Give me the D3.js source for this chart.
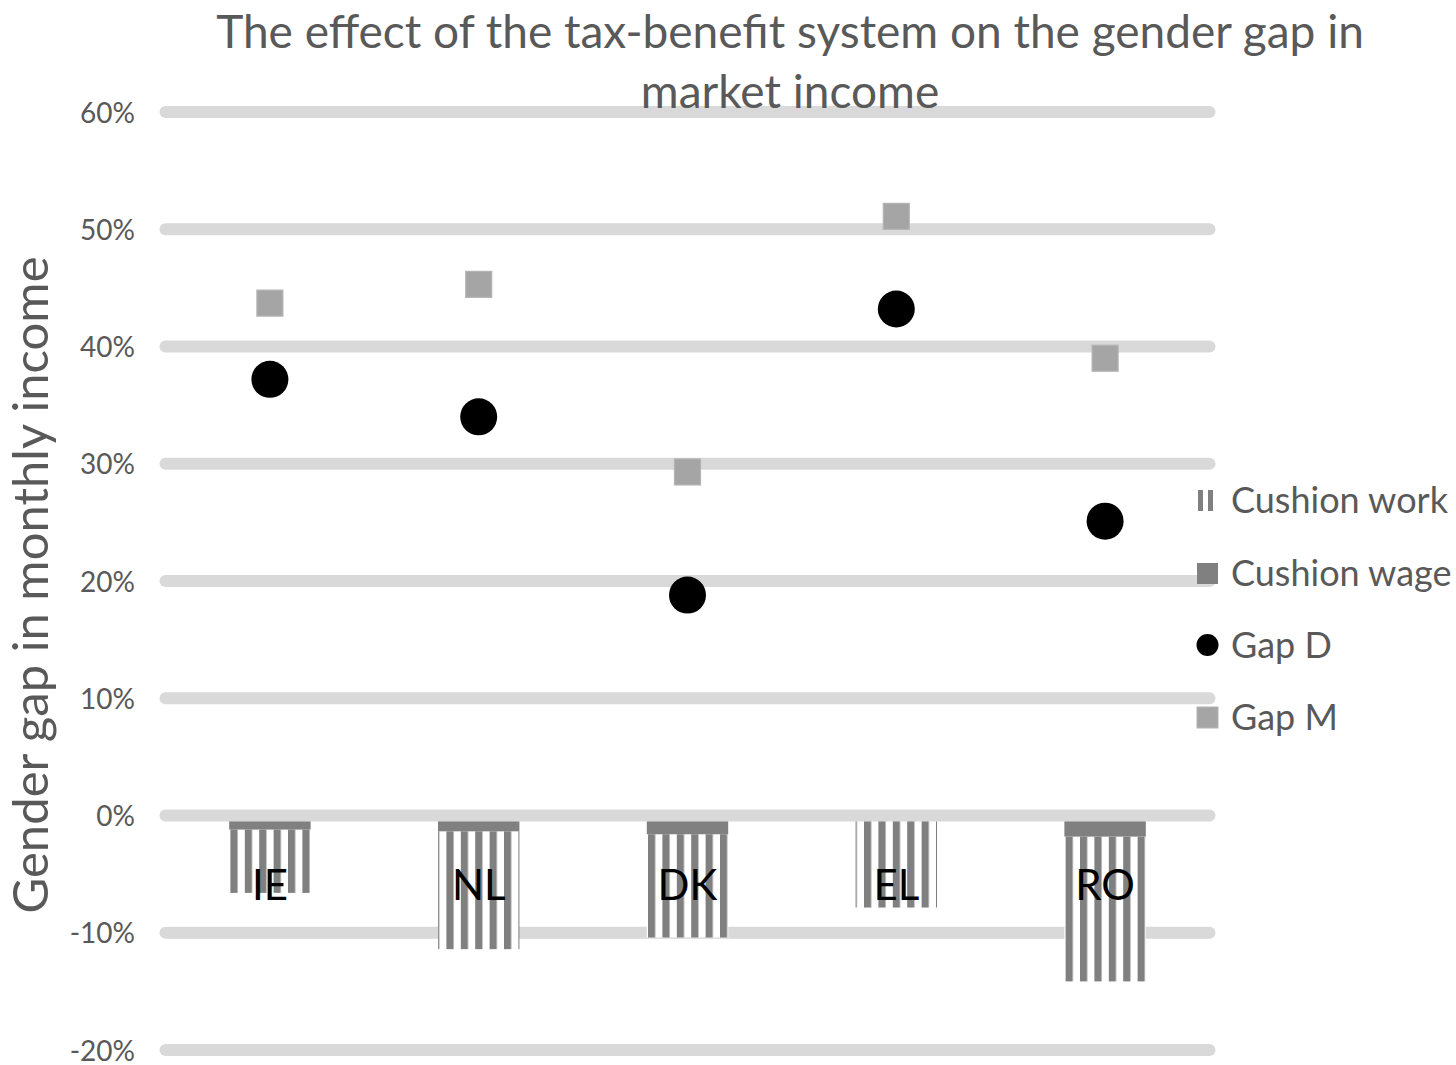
<!DOCTYPE html>
<html>
<head>
<meta charset="utf-8">
<script src="https://cdn.jsdelivr.net/npm/d3@7"></script>
<style>
  html, body { margin: 0; padding: 0; background: #fff; }
  svg { display: block; font-family: Lato, "Open Sans", sans-serif; }
</style>
</head>
<body>
<svg id="chart" width="1456" height="1065"></svg>
<script>
// Countries and values (shares, e.g. 0.37 = 37%)
const countries = ["IE", "NL", "DK", "EL", "RO"];
const cushionWage = [-0.012, -0.0135, -0.016, -0.0005, -0.018];
const cushionWork = [-0.054, -0.1005, -0.088, -0.078, -0.1235];
const gapD = [0.372, 0.340, 0.188, 0.432, 0.251];
const gapM = [0.437, 0.453, 0.293, 0.511, 0.390];
const yTicks = [-0.2, -0.1, 0, 0.1, 0.2, 0.3, 0.4, 0.5, 0.6];
const legendLabels = ["Cushion work", "Cushion wage", "Gap D", "Gap M"];

const textGrey = "#595959";
const gridGrey = "#d9d9d9";
const barGrey = "#808080";
const markerGrey = "#a5a5a5";

const svg = d3.select("#chart");

const x = d3.scaleBand().domain(countries).range([165.5, 1209.5]).paddingInner(0.61).paddingOuter(0.305);
const y = d3.scaleLinear().domain([-0.2, 0.6]).range([1050, 112]);

// vertical stripe fill for the "Cushion work" segments
const defs = svg.append("defs");
defs.append("pattern")
  .attr("id", "stripes")
  .attr("patternUnits", "userSpaceOnUse")
  .attr("width", 14.4).attr("height", 20)
  .call(p => {
    p.append("rect").attr("width", 14.4).attr("height", 20).attr("fill", "#fff");
    p.append("rect").attr("x", 0).attr("width", 7.2).attr("height", 20).attr("fill", barGrey);
  });

// horizontal gridlines with rounded ends
const grid = svg.append("g");
grid.selectAll("line").data(yTicks.filter(d => d !== 0)).join("line")
  .attr("x1", x.range()[0]).attr("x2", x.range()[1])
  .attr("y1", d => y(d)).attr("y2", d => y(d))
  .attr("stroke", gridGrey).attr("stroke-width", 12).attr("stroke-linecap", "round");

// tick labels (plain hyphen for negatives)
const pct = d => `${Math.round(d * 100)}%`;
const yAxis = d3.axisLeft(y).tickValues(yTicks).tickFormat(pct).tickSize(0).tickPadding(0);
svg.append("g").attr("transform", "translate(135,0)").call(yAxis)
  .call(g => g.select(".domain").remove())
  .call(g => g.selectAll("text").attr("fill", textGrey).attr("font-size", 28).attr("font-family", "Lato").attr("dy", "0.36em"));

// stacked negative bars: wage segment on top, work segment below it
const bars = svg.append("g");
countries.forEach((c, i) => {
  const w1 = cushionWage[i];
  const k1 = w1 + cushionWork[i];
  bars.append("rect")
    .attr("x", x(c)).attr("width", x.bandwidth())
    .attr("y", y(w1)).attr("height", y(k1) - y(w1))
    .attr("fill", "url(#stripes)");
  bars.append("rect")
    .attr("x", x(c)).attr("width", x.bandwidth())
    .attr("y", y(0)).attr("height", y(w1) - y(0))
    .attr("fill", barGrey);
});

// zero line sits above the bars
svg.append("line")
  .attr("x1", x.range()[0]).attr("x2", x.range()[1])
  .attr("y1", y(0)).attr("y2", y(0))
  .attr("stroke", gridGrey).attr("stroke-width", 12).attr("stroke-linecap", "round");

// category labels drawn inside the bars
svg.append("g").selectAll("text").data(countries).join("text")
  .attr("x", d => x(d) + x.bandwidth() / 2)
  .attr("y", 900)
  .attr("text-anchor", "middle")
  .attr("font-size", 42)
  .attr("fill", "#000")
  .text(d => d);

// Gap M squares
const sq = 26;
svg.append("g").selectAll("rect").data(gapM).join("rect")
  .attr("x", (d, i) => x(countries[i]) + x.bandwidth() / 2 - sq / 2)
  .attr("y", d => y(d) - sq / 2)
  .attr("width", sq).attr("height", sq)
  .attr("fill", markerGrey)
  .attr("stroke", "#b4b4b4").attr("stroke-width", 1.2);

// Gap D circles
svg.append("g").selectAll("circle").data(gapD).join("circle")
  .attr("cx", (d, i) => x(countries[i]) + x.bandwidth() / 2)
  .attr("cy", d => y(d))
  .attr("r", 18.5)
  .attr("fill", "#000");

// title
const title = svg.append("text")
  .attr("x", 790).attr("text-anchor", "middle")
  .attr("fill", textGrey).attr("font-size", 46);
title.append("tspan").attr("x", 790).attr("y", 48).text("The effect of the tax-benefit system on the gender gap in");
title.append("tspan").attr("x", 790).attr("y", 108).text("market income");

// y axis title
svg.append("text")
  .attr("transform", "translate(48,585) rotate(-90)")
  .attr("text-anchor", "middle")
  .attr("fill", textGrey).attr("font-size", 49)
  .text("Gender gap in monthly income");

// legend
const legend = svg.append("g");
const ly = [500, 573, 645, 717];
legendLabels.forEach((lab, i) => {
  const g = legend.append("g").attr("transform", `translate(1197,${ly[i]})`);
  if (i === 0) {
    g.append("rect").attr("x", 1).attr("y", -10).attr("width", 5).attr("height", 21).attr("fill", barGrey);
    g.append("rect").attr("x", 11).attr("y", -10).attr("width", 5).attr("height", 21).attr("fill", barGrey);
  } else if (i === 1) {
    g.append("rect").attr("x", 0).attr("y", -10).attr("width", 21).attr("height", 21).attr("fill", barGrey);
  } else if (i === 2) {
    g.append("circle").attr("cx", 10.5).attr("cy", 0).attr("r", 11).attr("fill", "#000");
  } else {
    g.append("rect").attr("x", 0).attr("y", -10).attr("width", 21).attr("height", 21)
      .attr("fill", markerGrey).attr("stroke", "#b4b4b4").attr("stroke-width", 1);
  }
  g.append("text").attr("x", 34).attr("y", 0).attr("dy", "0.35em")
    .attr("fill", textGrey).attr("font-size", 36).text(lab);
});
</script>
</body>
</html>
